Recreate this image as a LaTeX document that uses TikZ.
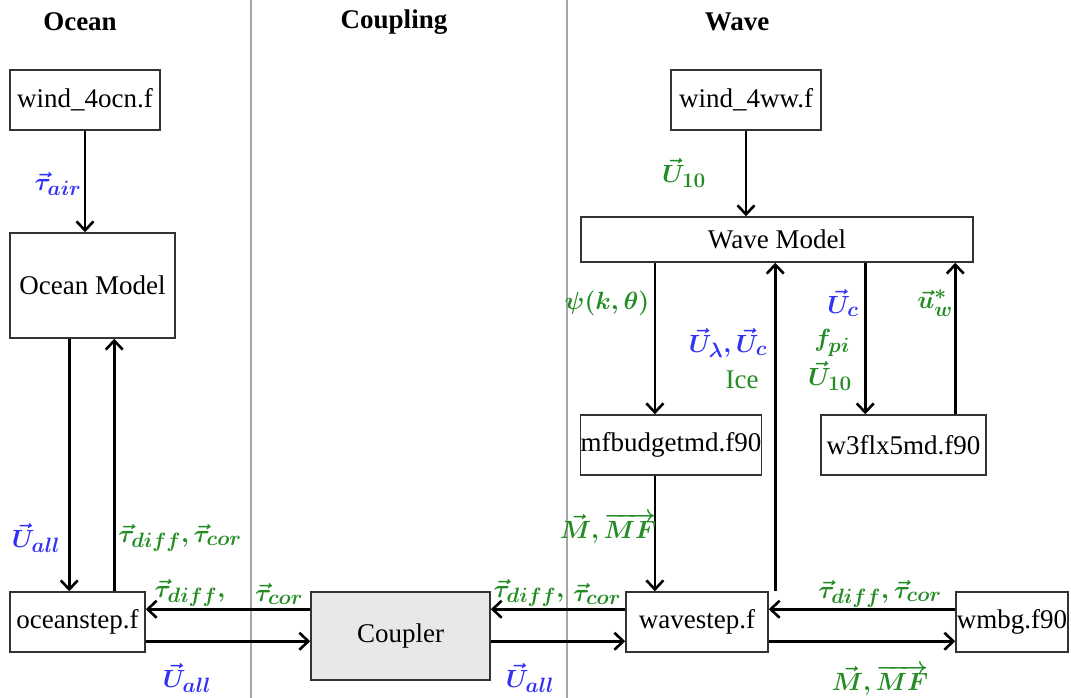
\documentclass[tikz,border=0pt]{standalone}
\usepackage{fontspec}
\setmainfont{Liberation Serif}
\newfontfamily\tnr{Liberation Serif}
\usetikzlibrary{arrows.meta}
\DeclareMathSizes{27}{27}{20}{15}
\definecolor{lblue}{RGB}{50,50,245}
\definecolor{lgreen}{RGB}{35,140,35}
\definecolor{cpfill}{RGB}{232,232,232}
\newcommand{\bigfs}{\tnr\fontsize{27}{32}\selectfont}
\newcommand{\lblfs}{\fontsize{27}{32}\selectfont\boldmath}
\tikzset{
  box/.style={draw=black!80, line width=1.5pt, fill=white, font=\bigfs, inner sep=0pt, rectangle},
  head/.style={font=\bigfs\bfseries},
  flow/.style={line width=2.6pt, -{Straight Barb[length=9pt,width=17pt]}},
  sep/.style={draw=black!35, line width=1.2pt},
  lblB/.style={text=lblue, font=\lblfs, inner sep=0pt},
  lblG/.style={text=lgreen, font=\lblfs, inner sep=0pt},
}
\begin{document}
\begin{tikzpicture}[x=1pt,y=-1pt]
\useasboundingbox (0,0) rectangle (1071,698);
% separators
\coordinate (s1t) at (251,0); \coordinate (s1b) at (251,698);
\coordinate (s2t) at (567,0); \coordinate (s2b) at (567,698);
\draw[sep] (s1t) -- (s1b);
\draw[sep] (s2t) -- (s2b);
% headers
\node[head] (hocean) at (80,22) {Ocean};
\node[head] (hcoup) at (394,22) {Coupling};
\node[head] (hwave) at (737,22) {Wave};
% boxes
\node[box, minimum width=150pt, minimum height=60pt] (w4o) at (85,100) {wind\_4ocn.f};
\node[box, minimum width=165pt, minimum height=105pt] (om) at (92.5,285.5) {Ocean Model};
\node[box, minimum width=135pt, minimum height=60pt] (os) at (77.5,622) {oceanstep.f};
\node[box, fill=cpfill, minimum width=179pt, minimum height=88pt] (cp) at (400.5,636) {Coupler};
\node[box, minimum width=150pt, minimum height=60pt] (w4w) at (746,100) {wind\_4ww.f};
\node[box, minimum width=392pt, minimum height=45pt] (wm) at (777,239.5) {Wave Model};
\node[box, minimum width=180pt, minimum height=60pt] (mfb) at (671,445) {mfbudgetmd.f90};
\node[box, minimum width=165pt, minimum height=60pt] (w3) at (903.5,445) {w3flx5md.f90};
\node[box, minimum width=142pt, minimum height=60pt] (ws) at (697,622) {wavestep.f};
\node[box, minimum width=112pt, minimum height=60pt] (wb) at (1012,622) {wmbg.f90};
% ocean arrows
\draw[flow] (w4o.south) -- (w4o.south |- om.north);
\draw[flow] ([xshift=60pt]om.south west) -- ([xshift=60pt]om.south west |- os.north);
\draw[flow] ([xshift=105pt]os.north west) -- ([xshift=105pt]os.north west |- om.south);
% coupling arrows
\draw[flow] ([yshift=-18pt]cp.north west) -- ([yshift=-18pt]cp.north west -| os.east);
\draw[flow] ([yshift=-50pt]os.north east) -- ([yshift=-50pt]os.north east -| cp.west);
\draw[flow] ([yshift=-18pt]ws.north west) -- ([yshift=-18pt]ws.north west -| cp.east);
\draw[flow] ([yshift=-50pt]cp.north east) -- ([yshift=-50pt]cp.north east -| ws.west);
\draw[flow] ([yshift=-18pt]wb.north west) -- ([yshift=-18pt]wb.north west -| ws.east);
\draw[flow] ([yshift=-50pt]ws.north east) -- ([yshift=-50pt]ws.north east -| wb.west);
% wave arrows
\draw[flow] (w4w.south) -- (w4w.south |- wm.north);
\draw[flow] ([xshift=75pt]mfb.north west |- wm.south) -- ([xshift=75pt]mfb.north west);
\draw[flow] ([xshift=150pt]ws.north west) -- ([xshift=150pt]ws.north west |- wm.south);
\draw[flow] ([xshift=45pt]w3.north west |- wm.south) -- ([xshift=45pt]w3.north west);
\draw[flow] ([xshift=135pt]w3.north west) -- ([xshift=135pt]w3.north west |- wm.south);
\draw[flow] ([xshift=75pt]mfb.south west) -- ([xshift=75pt]mfb.south west |- ws.north);
% labels
\node[lblB] (tair) at (58,184) {$\vec\tau_{air}$};
\node[lblB] (uall1) at (36,538) {$\vec U_{all}$};
\node[lblG] (tdc1) at (180,538) {$\vec\tau_{diff},\vec\tau_{cor}$};
\node[lblG] (td2) at (190,593) {$\vec\tau_{diff},$};
\node[lblG] (tc2) at (279,594) {$\vec\tau_{cor}$};
\node[lblB] (uall2) at (187,678) {$\vec U_{all}$};
\node[lblG] (td3) at (529,593) {$\vec\tau_{diff},$};
\node[lblG] (tc3) at (597,594) {$\vec\tau_{cor}$};
\node[lblB] (uall3) at (530,678) {$\vec U_{all}$};
\node[lblG] (tdc4) at (880,594) {$\vec\tau_{diff},\vec\tau_{cor}$};
\node[lblG] (mmf2) at (880,680) {$\vec M,\overrightarrow{MF}$};
\node[lblG] (u10a) at (684,173) {$\vec U_{10}$};
\node[lblG] (psi) at (607,303) {$\psi(k,\theta)$};
\node[lblB] (ulc) at (728,343) {$\vec U_\lambda,\vec U_c$};
\node[lblG, font=\bigfs] (ice) at (742,380) {Ice};
\node[lblB] (uc) at (843,303) {$\vec U_c$};
\node[lblG] (fpi) at (832,343) {$f_{pi}$};
\node[lblG] (u10b) at (830,376) {$\vec U_{10}$};
\node[lblG] (ustar) at (935,303) {$\vec u^*_w$};
\node[lblG] (mmf1) at (608,528) {$\vec M,\overrightarrow{MF}$};
\end{tikzpicture}
\end{document}
